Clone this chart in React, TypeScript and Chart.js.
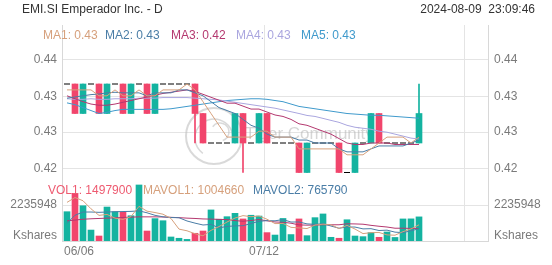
import React, { useEffect, useRef } from 'react';
import { Chart, registerables } from 'chart.js';

Chart.register(...registerables);

const FONT = '"Liberation Sans", Arial, Helvetica, sans-serif';

// ---------- data ----------
const title = 'EMI.SI Emperador Inc. - D';
const timestamp = '2024-08-09  23:09:46';

const dates = [
  '06/06', '06/07', '06/10', '06/11', '06/12', '06/13', '06/14', '06/18', '06/19', '06/20',
  '06/21', '06/24', '06/25', '06/26', '06/27', '06/28', '07/01', '07/02', '07/03', '07/04',
  '07/05', '07/08', '07/09', '07/10', '07/11', '07/12', '07/15', '07/16', '07/17', '07/18',
  '07/19', '07/22', '07/23', '07/24', '07/25', '07/26', '07/29', '07/30', '07/31', '08/01',
  '08/02', '08/05', '08/06', '08/07', '08/08',
];

const open = [
  0.435, 0.435, 0.43, 0.435, 0.435, 0.43, 0.435, 0.435, 0.43, 0.435,
  0.435, 0.43, 0.435, 0.435, 0.435, 0.435, 0.435, 0.43, 0.425, 0.425,
  0.425, 0.425, 0.43, 0.425, 0.425, 0.43, 0.425, 0.425, 0.425, 0.425,
  0.42, 0.425, 0.425, 0.425, 0.425, 0.42, 0.42, 0.425, 0.425, 0.43,
  0.425, 0.425, 0.425, 0.425, 0.425,
];
const high = [
  0.435, 0.435, 0.435, 0.435, 0.435, 0.435, 0.435, 0.435, 0.435, 0.435,
  0.435, 0.435, 0.435, 0.435, 0.435, 0.435, 0.435, 0.43, 0.425, 0.425,
  0.425, 0.43, 0.43, 0.425, 0.43, 0.43, 0.425, 0.425, 0.425, 0.425,
  0.425, 0.425, 0.425, 0.425, 0.425, 0.42, 0.425, 0.425, 0.43, 0.43,
  0.425, 0.425, 0.425, 0.425, 0.435,
];
const low = [
  0.435, 0.43, 0.43, 0.435, 0.43, 0.43, 0.435, 0.43, 0.43, 0.435,
  0.43, 0.43, 0.435, 0.435, 0.435, 0.435, 0.425, 0.425, 0.425, 0.425,
  0.425, 0.425, 0.42, 0.425, 0.425, 0.425, 0.425, 0.425, 0.425, 0.42,
  0.42, 0.425, 0.425, 0.425, 0.42, 0.42, 0.42, 0.425, 0.425, 0.425,
  0.425, 0.425, 0.425, 0.425, 0.425,
];
const close = [
  0.435, 0.43, 0.435, 0.435, 0.43, 0.435, 0.435, 0.43, 0.435, 0.435,
  0.43, 0.435, 0.435, 0.435, 0.435, 0.435, 0.43, 0.425, 0.425, 0.425,
  0.425, 0.43, 0.425, 0.425, 0.43, 0.425, 0.425, 0.425, 0.425, 0.42,
  0.425, 0.425, 0.425, 0.425, 0.42, 0.42, 0.425, 0.425, 0.43, 0.425,
  0.425, 0.425, 0.425, 0.425, 0.43,
];

const volume = [
  1820000, 2960000, 2190000, 680000, 310000, 2110000, 1820000, 1780000, 1570000, 3480000,
  620000, 1390000, 1260000, 250000, 170000, 100000, 480000, 620000, 1930000, 1350000,
  1510000, 1720000, 1370000, 1600000, 1550000, 520000, 370000, 1400000, 400000, 1370000,
  330000, 1450000, 1680000, 230000, 170000, 1320000, 310000, 270000, 520000, 230000,
  560000, 220000, 1370000, 1375000, 1497900,
];

const ma1 = [
  0.434, 0.434, 0.434, 0.434, 0.433, 0.433, 0.434, 0.433, 0.433, 0.434,
  0.433, 0.433, 0.434, 0.434, 0.434, 0.435, 0.434, 0.432, 0.43, 0.428,
  0.426, 0.426, 0.426, 0.426, 0.427, 0.427, 0.426, 0.426, 0.426, 0.424,
  0.424, 0.424, 0.424, 0.424, 0.424, 0.423, 0.423, 0.423, 0.424, 0.425,
  0.426, 0.426, 0.426, 0.425, 0.426,
];
const ma2 = [
  0.4326, 0.4328, 0.433, 0.4332, 0.4333, 0.4335, 0.4336, 0.4335, 0.4335, 0.4335,
  0.433, 0.4335, 0.4335, 0.4335, 0.434, 0.434, 0.4335, 0.433, 0.432, 0.431,
  0.4305, 0.43, 0.429, 0.428, 0.4275, 0.4265, 0.426, 0.426, 0.426, 0.4255,
  0.4255, 0.425, 0.425, 0.425, 0.424, 0.4235, 0.4235, 0.4235, 0.424, 0.4245,
  0.4245, 0.4245, 0.4245, 0.425, 0.4255,
];
const ma3 = [
  0.433, 0.4325, 0.432, 0.4316, 0.4314, 0.4314, 0.4316, 0.4319, 0.4322, 0.4325,
  0.4328, 0.4331, 0.4334, 0.4336, 0.4338, 0.434, 0.43375, 0.43325, 0.43275, 0.43225,
  0.43175, 0.43175, 0.43125, 0.43075, 0.43075, 0.43025, 0.42975, 0.4295, 0.429, 0.42825,
  0.428, 0.4275, 0.427, 0.4265, 0.42575, 0.425, 0.42475, 0.42475, 0.425, 0.425,
  0.425, 0.42475, 0.42475, 0.42475, 0.42475,
];
const ma4 = [
  0.4325, 0.4324, 0.4324, 0.4325, 0.4324, 0.4324, 0.4325, 0.4325, 0.4325, 0.4326,
  0.4326, 0.4326, 0.4327, 0.4327, 0.4327, 0.4327, 0.4326, 0.4325, 0.4324, 0.4323,
  0.4321, 0.4319, 0.4317, 0.4315, 0.4313, 0.4311, 0.4309, 0.4306, 0.4303, 0.43,
  0.42967, 0.4295, 0.42917, 0.42883, 0.4285, 0.428, 0.42767, 0.4275, 0.42733, 0.427,
  0.42683, 0.4265, 0.42617, 0.42583, 0.42567,
];
const ma5 = [
  0.4318, 0.4315, 0.431, 0.4305, 0.43, 0.4302, 0.4305, 0.4307, 0.4307, 0.4307,
  0.4307, 0.4307, 0.4307, 0.4308, 0.431, 0.4312, 0.4314, 0.4316, 0.4318, 0.432,
  0.4322, 0.4323, 0.4324, 0.4325, 0.4325, 0.4324, 0.4322, 0.432, 0.4316, 0.4312,
  0.431, 0.4308, 0.4306, 0.4304, 0.4302, 0.43, 0.4299, 0.4298, 0.4297, 0.4297,
  0.4296, 0.4295, 0.4294, 0.4293, 0.4292,
];

const mavol1 = [
  2400000, 2700000, 2500000, 2000000, 1592000, 1650000, 1422000, 1340000, 1518000, 2152000,
  1854000, 1768000, 1664000, 1400000, 738000, 634000, 452000, 324000, 660000, 896000,
  1178000, 1426000, 1576000, 1510000, 1550000, 1352000, 1082000, 1088000, 848000, 812000,
  774000, 990000, 1046000, 1012000, 772000, 970000, 742000, 460000, 518000, 530000,
  378000, 360000, 580000, 751000, 1004660,
];
const mavol2 = [
  1100000, 1600000, 1800000, 1800000, 1780000, 1800000, 1820000, 1830000, 1840000, 1872000,
  1752000, 1595000, 1502000, 1459000, 1445000, 1244000, 1110000, 994000, 1030000, 817000,
  906000, 939000, 950000, 1085000, 1223000, 1265000, 1254000, 1332000, 1179000, 1181000,
  1063000, 1036000, 1067000, 930000, 792000, 872000, 866000, 753000, 765000, 651000,
  674000, 551000, 520000, 634500, 765790,
];
const mavol3 = [
  1250000, 1300000, 1350000, 1380000, 1400000, 1420000, 1440000, 1460000, 1480000, 1500000,
  1500000, 1500000, 1490000, 1470000, 1450000, 1420000, 1400000, 1370000, 1360000, 1345000,
  1329000, 1267000, 1226000, 1272000, 1334000, 1254500, 1182000, 1163000, 1104500, 999000,
  984500, 987500, 1008500, 1007500, 1007500, 1068500, 1060000, 1042500, 972000, 916000,
  868500, 793500, 793500, 782000, 780000,
];

const maLabels = ['MA1', 'MA2', 'MA3', 'MA4', 'MA5'];
const maValues = ['0.43', '0.43', '0.42', '0.43', '0.43'];
const volLabels = ['VOL1', 'MAVOL1', 'MAVOL2'];
const volValues = ['1497900', '1004660', '765790'];

const priceTicks = [0.43907, 0.43283, 0.42686, 0.42073];
const volumeTick = 2235948;
const volumeUnitTick = 335000;
const volumeUnitLabel = 'Kshares';
const xTickIndices = [0, 25, 50];

// ---------- styles / layout ----------
const UP = '#14b3a0';
const DOWN = '#f1456c';
const maColors = ['#d6a07c', '#4a7da6', '#b4386f', '#aaa6df', '#3f9acc'];
const volTextColors = ['#ee5a70', '#d6a07c', '#4a7da6'];
const volMaColors = ['#d6a07c', '#4a7da6', '#b4386f'];
const AXIS_TEXT = '#7a7a7a';
const GRID = '#e4e4e4';
const BORDER = '#d8d8d8';

const X_MIN = -0.625;
const X_MAX = 52.625;
const PRICE_MIN = 0.419068;
const PRICE_MAX = 0.445;
const VOL_MAX = 3913000;

const maLegendX = [43, 105, 171, 236, 301];
const volLegendX = [48, 143, 253];

const overlay = {
  id: 'overlay',
  beforeDatasetsDraw(chart: any) {
    const ctx = chart.ctx;
    ctx.save();
    ctx.strokeStyle = 'rgba(185,185,185,0.55)';
    ctx.lineWidth = 2;
    ctx.beginPath();
    ctx.arc(214, 136, 28, 0, Math.PI * 2);
    ctx.stroke();
    ctx.lineWidth = 1.5;
    ctx.beginPath();
    ctx.arc(214, 138, 19, Math.PI * 0.7, Math.PI * 1.95);
    ctx.stroke();
    ctx.beginPath();
    ctx.arc(220, 132, 9, Math.PI * 1.2, Math.PI * 2.4);
    ctx.stroke();
    ctx.font = `17px ${FONT}`;
    ctx.fillStyle = 'rgba(180,180,180,0.55)';
    ctx.textBaseline = 'middle';
    ctx.textAlign = 'left';
    ctx.fillText('Tiger Community', 245, 134);
    ctx.restore();
  },
  afterDraw(chart: any) {
    const ctx = chart.ctx;
    ctx.save();
    ctx.font = `12px ${FONT}`;
    ctx.textBaseline = 'middle';
    ctx.fillStyle = '#333';
    ctx.textAlign = 'left';
    ctx.fillText(title, 22, 10);
    ctx.textAlign = 'right';
    ctx.fillText(timestamp, 535, 10);
    ctx.textAlign = 'left';
    maLabels.forEach((l, i) => {
      ctx.fillStyle = maColors[i];
      ctx.fillText(`${l}: ${maValues[i]}`, maLegendX[i], 36);
    });
    volLabels.forEach((l, i) => {
      ctx.fillStyle = volTextColors[i];
      ctx.fillText(`${l}: ${volValues[i]}`, volLegendX[i], 191);
    });
    ctx.restore();
  },
};

export default function App() {
  const ref = useRef<HTMLCanvasElement | null>(null);

  useEffect(() => {
    if (!ref.current) return;
    Chart.defaults.font.family = FONT;
    Chart.defaults.font.size = 12;

    const idx = dates.map((_, i) => i);
    const isDoji = (i: number) => open[i] === close[i] && high[i] === low[i];
    const candleIdx = idx.filter((i) => !isDoji(i));
    const dojiIdx = idx.filter((i) => isDoji(i));
    const colorOf = (i: number) => (close[i] < open[i] ? DOWN : UP);

    const maSets = [ma1, ma2, ma3, ma4, ma5].map((s, j) => ({
      type: 'line',
      data: s.map((v, i) => ({ x: i, y: v })),
      borderColor: maColors[j],
      borderWidth: 1,
      pointRadius: 0,
      tension: 0,
      yAxisID: 'y',
      order: 0,
    }));
    const volMaSets = [mavol1, mavol2, mavol3].map((s, j) => ({
      type: 'line',
      data: s.map((v, i) => ({ x: i, y: v })),
      borderColor: volMaColors[j],
      borderWidth: 1,
      pointRadius: 0,
      tension: 0,
      yAxisID: 'yv',
      order: 0,
    }));

    const chart = new Chart(ref.current, {
      type: 'bar',
      data: {
        datasets: [
          ...maSets,
          ...volMaSets,
          {
            type: 'scatter',
            data: dojiIdx.map((i) => ({ x: i, y: close[i] })),
            pointStyle: 'line',
            pointRadius: 3,
            pointBorderWidth: 1,
            pointBorderColor: '#000',
            pointBackgroundColor: '#000',
            yAxisID: 'y',
            order: 1,
          },
          {
            type: 'bar',
            data: candleIdx.map((i) => ({ x: i, y: [open[i], close[i]] })),
            backgroundColor: candleIdx.map(colorOf),
            borderWidth: 0,
            barThickness: 6,
            grouped: false,
            yAxisID: 'y',
            order: 2,
          },
          {
            type: 'bar',
            data: candleIdx.map((i) => ({ x: i, y: [low[i], high[i]] })),
            backgroundColor: candleIdx.map(colorOf),
            borderWidth: 0,
            barThickness: 1,
            grouped: false,
            yAxisID: 'y',
            order: 3,
          },
          {
            type: 'bar',
            data: idx.map((i) => ({ x: i, y: volume[i] })),
            backgroundColor: idx.map(colorOf),
            borderWidth: 0,
            barThickness: 6,
            grouped: false,
            yAxisID: 'yv',
            order: 4,
          },
        ] as any,
      },
      options: {
        responsive: false,
        maintainAspectRatio: false,
        devicePixelRatio: 1,
        animation: false,
        events: [],
        layout: { padding: { top: 25, left: 0, right: 0, bottom: 0 } },
        plugins: { legend: { display: false }, tooltip: { enabled: false }, title: { display: false } },
        scales: {
          x: {
            type: 'linear',
            position: 'bottom',
            min: X_MIN,
            max: X_MAX,
            offset: false,
            afterFit: (s: any) => { s.height = 24; },
            afterBuildTicks: (s: any) => { s.ticks = xTickIndices.map((i) => ({ value: i - 0.375 })); },
            ticks: {
              autoSkip: false,
              maxRotation: 0,
              minRotation: 0,
              padding: 3,
              align: 'inner',
              color: AXIS_TEXT,
              font: { size: 12 },
              callback: (v: any) => dates[Math.round(Number(v) + 0.375)] ?? '',
            },
            grid: {
              offset: false,
              drawTicks: false,
              color: (c: any) => (c.index === 0 ? 'rgba(0,0,0,0)' : GRID),
            },
            border: { display: true, color: BORDER },
          },
          y: {
            type: 'linear',
            position: 'left',
            stack: 'left',
            stackWeight: 153,
            weight: 1,
            min: PRICE_MIN,
            max: PRICE_MAX,
            afterFit: (s: any) => { s.width = 62; },
            afterBuildTicks: (s: any) => { s.ticks = priceTicks.map((v) => ({ value: v })); },
            ticks: { padding: 5, color: AXIS_TEXT, font: { size: 12 }, callback: (v: any) => Number(v).toFixed(2) },
            grid: { drawTicks: false, color: GRID },
            border: { display: true, color: BORDER },
          },
          yv: {
            type: 'linear',
            position: 'left',
            stack: 'left',
            stackWeight: 63,
            weight: 0,
            min: 0,
            max: VOL_MAX,
            afterFit: (s: any) => { s.width = 62; },
            afterBuildTicks: (s: any) => { s.ticks = [{ value: volumeUnitTick }, { value: volumeTick }]; },
            ticks: {
              padding: 5,
              color: AXIS_TEXT,
              font: { size: 12 },
              callback: (v: any) => (Number(v) === volumeTick ? String(volumeTick) : volumeUnitLabel),
            },
            grid: {
              drawTicks: false,
              color: (c: any) => (c.tick && c.tick.value === volumeTick ? GRID : 'rgba(0,0,0,0)'),
            },
            border: { display: true, color: BORDER },
          },
          yr: {
            type: 'linear',
            position: 'right',
            stack: 'right',
            stackWeight: 153,
            weight: 0,
            min: PRICE_MIN,
            max: PRICE_MAX,
            afterFit: (s: any) => { s.width = 64; },
            afterBuildTicks: (s: any) => { s.ticks = priceTicks.map((v) => ({ value: v })); },
            ticks: { padding: 6, color: AXIS_TEXT, font: { size: 12 }, callback: (v: any) => Number(v).toFixed(2) },
            grid: { display: false, drawTicks: false },
            border: { display: true, color: BORDER },
          },
          yvr: {
            type: 'linear',
            position: 'right',
            stack: 'right',
            stackWeight: 63,
            weight: 1,
            min: 0,
            max: VOL_MAX,
            afterFit: (s: any) => { s.width = 64; },
            afterBuildTicks: (s: any) => { s.ticks = [{ value: volumeUnitTick }, { value: volumeTick }]; },
            ticks: {
              padding: 6,
              color: AXIS_TEXT,
              font: { size: 12 },
              callback: (v: any) => (Number(v) === volumeTick ? String(volumeTick) : volumeUnitLabel),
            },
            grid: { display: false, drawTicks: false },
            border: { display: true, color: BORDER },
          },
        },
      } as any,
      plugins: [overlay],
    });
    return () => chart.destroy();
  }, []);

  return (
    <div style={{ position: 'fixed', left: 0, top: 0, width: 552, height: 265, background: '#fff' }}>
      <canvas ref={ref} width={552} height={265} style={{ display: 'block', width: 552, height: 265 }} />
    </div>
  );
}
